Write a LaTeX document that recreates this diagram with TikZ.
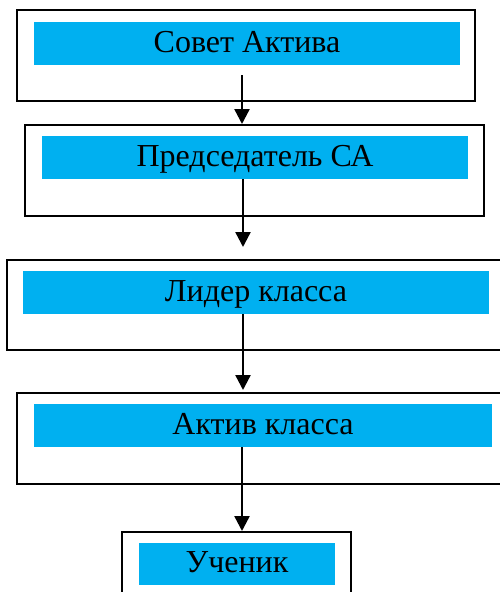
\documentclass[tikz,border=0pt]{standalone}
\usepackage{fontspec}
\setmainfont{Liberation Serif}
\usetikzlibrary{arrows.meta}
\definecolor{cyanbar}{HTML}{00B0F0}
\tikzset{
  outerbox/.style={draw=black, line width=2pt, fill=white, inner sep=0pt, rectangle},
  bluebar/.style={fill=cyanbar, draw=none, inner sep=0pt, rectangle,
    font=\fontsize{32}{38}\selectfont, text height=23pt, text depth=6pt},
  arr/.style={line width=2.4pt, -{Triangle[width=15pt,length=15pt]}}
}
\begin{document}
\begin{tikzpicture}[x=1pt,y=-1pt]
\useasboundingbox (0,0) rectangle (500,592);
% outer boxes
\node[outerbox, minimum width=458pt, minimum height=91pt] (o1) at (246,55.5) {};
\node[outerbox, minimum width=459pt, minimum height=91pt] (o2) at (254.5,170.5) {};
\node[outerbox, minimum width=498pt, minimum height=90pt] (o3) at (256,305) {};
\node[outerbox, minimum width=492pt, minimum height=91pt] (o4) at (263,438.5) {};
\node[outerbox, minimum width=229pt, minimum height=91pt] (o5) at (236.5,577.5) {};
% blue bars
\node[bluebar, minimum width=426pt, minimum height=43pt] (b1) at (247,43.5) {Совет Актива};
\node[bluebar, minimum width=426pt, minimum height=43pt] (b2) at (255,157.5) {Председатель СА};
\node[bluebar, minimum width=466pt, minimum height=43pt] (b3) at (256,292.5) {Лидер класса};
\node[bluebar, minimum width=458pt, minimum height=43pt] (b4) at (263,425.5) {Актив класса};
\node[bluebar, minimum width=196pt, minimum height=42pt] (b5) at (237,564) {Ученик};
% connector coordinates
\coordinate (s1) at (242,75);
\coordinate (x2) at (243,0);
\coordinate (x1) at (242,0);
\coordinate (t2) at (243,247);
\coordinate (t3) at (243,390);
% connectors
\draw[arr] (s1) -- (s1 |- o2.north);
\draw[arr] (x2 |- b2.south) -- (t2);
\draw[arr] (x2 |- b3.south) -- (t3);
\draw[arr] (x1 |- b4.south) -- (x1 |- o5.north);
\end{tikzpicture}
\end{document}
